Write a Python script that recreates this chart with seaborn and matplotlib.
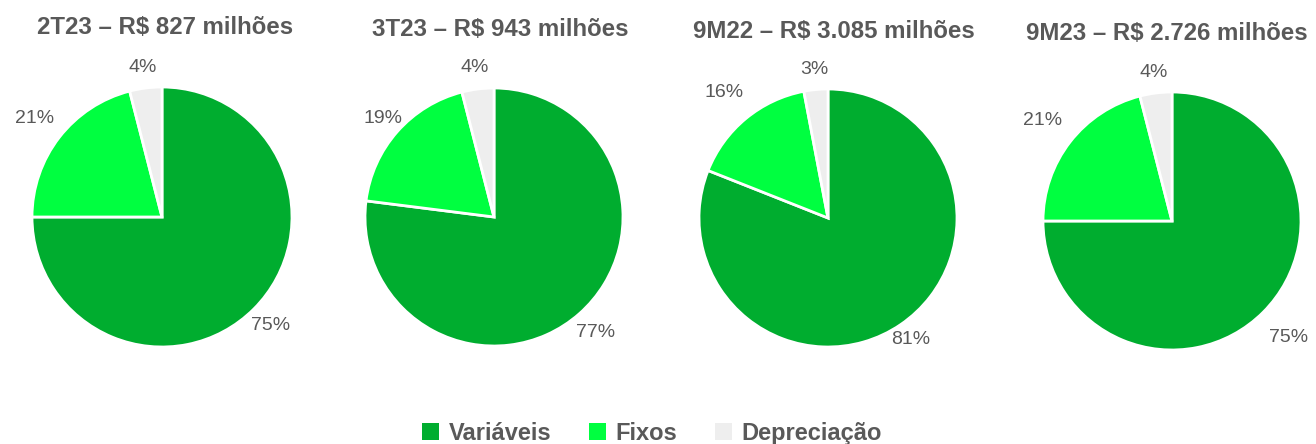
import matplotlib
matplotlib.use("Agg")
import numpy as np
import matplotlib.pyplot as plt
import seaborn as sns
from matplotlib.patches import Patch

sns.set_theme(style="white")
plt.rcParams['font.family'] = ['Liberation Sans', 'DejaVu Sans']

# ---- data ----
categories = ["Variáveis", "Fixos", "Depreciação"]
titles = ["2T23 – R$ 827 milhões", "3T23 – R$ 943 milhões",
          "9M22 – R$ 3.085 milhões", "9M23 – R$ 2.726 milhões"]
shares_2t23 = [75, 21, 4]
shares_3t23 = [77, 19, 4]
shares_9m22 = [81, 16, 3]
shares_9m23 = [75, 21, 4]
series = [shares_2t23, shares_3t23, shares_9m22, shares_9m23]

colors = sns.color_palette(["#00AD2F", "#00FF40", "#EEEEEE"])
text_color = "#595959"

W, H = 1316, 444
fig = plt.figure(figsize=(W / 100, H / 100), dpi=100)
fig.patch.set_facecolor("white")

# layout (pixel centers, radius), title positions, label radial distances
pies = [(162, 217, 130), (494, 217, 129), (828, 218, 129), (1172, 221, 129)]
title_pos = [(165, 28), (500, 30), (834, 32), (1167, 33)]
label_dist = [(1.18, 1.24, 1.16), (1.19, 1.15, 1.17), (1.14, 1.26, 1.16), (1.28, 1.27, 1.16)]
lim = 1.4

for (cx, cy, r), vals, title, (tx, ty), ld in zip(pies, series, titles, title_pos, label_dist):
    half = r * lim
    ax = fig.add_axes([(cx - half) / W, (H - cy - half) / H, 2 * half / W, 2 * half / H])
    wedges, _ = ax.pie(vals, colors=colors, startangle=90, counterclock=False,
                       wedgeprops=dict(edgecolor="white", linewidth=2))
    for w, v, d in zip(wedges, vals, ld):
        ang = np.deg2rad((w.theta1 + w.theta2) / 2)
        ax.text(d * np.cos(ang), d * np.sin(ang), f"{v}%", ha="center", va="center",
                fontsize=14, color=text_color)
    ax.set_xlim(-lim, lim)
    ax.set_ylim(-lim, lim)
    ax.set_aspect("equal")
    ax.axis("off")
    fig.text(tx / W, 1 - ty / H, title, ha="center", va="center",
             fontsize=17.3, fontweight="bold", color=text_color)

handles = [Patch(facecolor=c, edgecolor="none") for c in colors]
leg = fig.legend(handles, categories, loc="center", bbox_to_anchor=(652 / W, 1 - 433 / H),
                 ncol=3, frameon=False, handlelength=0.72, handleheight=0.72,
                 handletextpad=0.4, columnspacing=1.6,
                 prop=dict(size=17, weight="bold"))
for t in leg.get_texts():
    t.set_color(text_color)

fig.savefig("out.png", dpi=100, facecolor="white")
